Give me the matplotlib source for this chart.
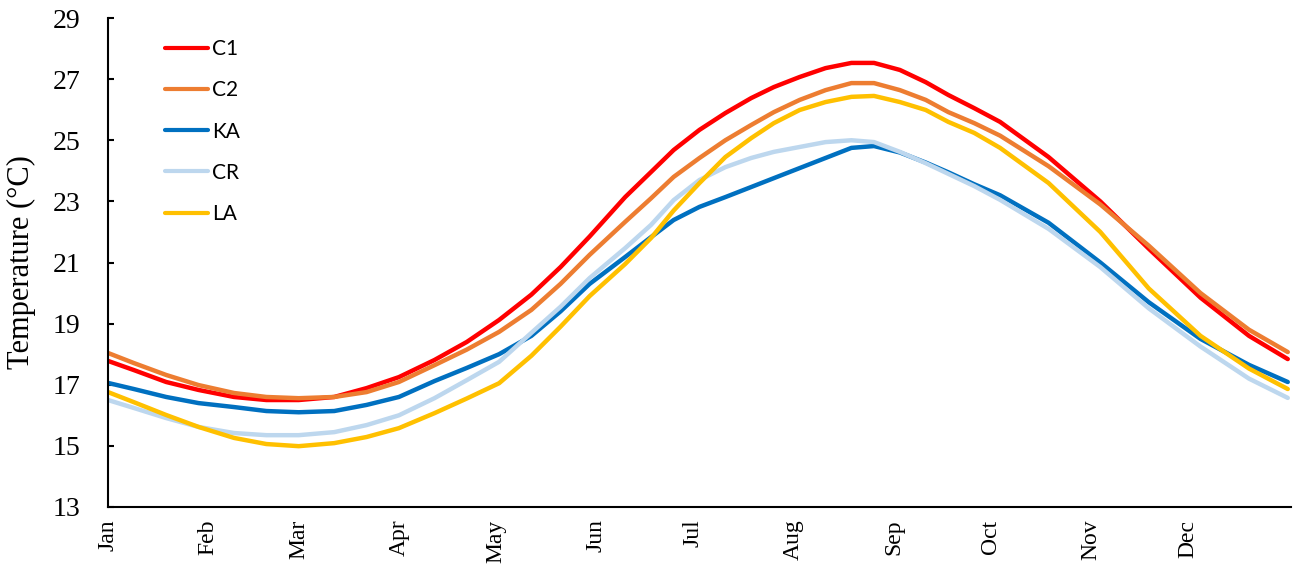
import matplotlib
matplotlib.use("Agg")
import matplotlib.pyplot as plt

# ================> Data (day of year -> temperature)
days = [0, 8, 18, 28, 39, 49, 59, 70, 80, 90, 101, 111, 121, 131, 140, 149, 160, 168, 175, 183,
        191, 199, 206, 214, 222, 230, 237, 245, 253, 260, 268, 276, 291, 307, 322, 338, 353, 365]

c1 = [17.78, 17.48, 17.09, 16.83, 16.60, 16.50, 16.50, 16.60, 16.89, 17.25, 17.81, 18.40, 19.12, 19.95, 20.85, 21.85, 23.14, 23.96, 24.68, 25.34,
      25.89, 26.38, 26.74, 27.07, 27.36, 27.53, 27.53, 27.30, 26.90, 26.48, 26.05, 25.60, 24.45, 23.00, 21.45, 19.85, 18.60, 17.84]
c2 = [18.04, 17.71, 17.32, 16.99, 16.73, 16.60, 16.56, 16.60, 16.76, 17.09, 17.64, 18.15, 18.73, 19.45, 20.30, 21.25, 22.33, 23.10, 23.80, 24.42,
      25.00, 25.50, 25.92, 26.32, 26.64, 26.87, 26.87, 26.64, 26.32, 25.92, 25.56, 25.15, 24.15, 22.90, 21.55, 20.00, 18.80, 18.07]
ka = [17.06, 16.86, 16.60, 16.40, 16.27, 16.14, 16.10, 16.14, 16.34, 16.60, 17.12, 17.55, 18.00, 18.60, 19.40, 20.30, 21.18, 21.83, 22.39, 22.82,
      23.14, 23.47, 23.76, 24.09, 24.42, 24.75, 24.81, 24.60, 24.27, 23.95, 23.56, 23.20, 22.30, 21.00, 19.70, 18.50, 17.65, 17.09]
cr = [16.50, 16.24, 15.91, 15.62, 15.42, 15.35, 15.35, 15.45, 15.68, 16.00, 16.56, 17.15, 17.75, 18.70, 19.55, 20.49, 21.47, 22.23, 23.04, 23.70,
      24.12, 24.42, 24.62, 24.78, 24.94, 25.00, 24.94, 24.62, 24.25, 23.90, 23.50, 23.05, 22.10, 20.85, 19.50, 18.25, 17.20, 16.57]
la = [16.76, 16.43, 16.01, 15.62, 15.26, 15.06, 14.99, 15.09, 15.29, 15.58, 16.07, 16.55, 17.05, 17.95, 18.90, 19.90, 20.95, 21.80, 22.70, 23.60,
      24.45, 25.07, 25.56, 25.99, 26.25, 26.42, 26.45, 26.25, 25.99, 25.60, 25.24, 24.75, 23.60, 22.00, 20.15, 18.60, 17.53, 16.86]

series_names = ["C1", "C2", "KA", "CR", "LA"]
series_colors = ["#FF0000", "#ED7D31", "#0070C0", "#BDD7EE", "#FFC000"]

month_starts = [0, 31, 59, 90, 120, 151, 181, 212, 243, 273, 304, 334]
month_labels = ["Jan", "Feb", "Mar", "Apr", "May", "Jun", "Jul", "Aug", "Sep", "Oct", "Nov", "Dec"]
y_ticks = [13, 15, 17, 19, 21, 23, 25, 27, 29]

plt.rcParams['font.family'] = ['Liberation Serif', 'DejaVu Serif']

fig = plt.figure(figsize=(13.04, 5.68), dpi=100)
ax = fig.add_axes([108 / 1304, 1 - 507 / 568, 1183 / 1304, 489 / 568])

for values, name, color in zip([c1, c2, ka, cr, la], series_names, series_colors):
    ax.plot(days, values, color=color, linewidth=3.2, label=name,
            solid_capstyle='round', solid_joinstyle='round')

ax.set_xlim(0, 366)
ax.set_ylim(13, 29)
ax.set_yticks(y_ticks)
ax.set_xticks(month_starts)
ax.set_xticklabels(month_labels, rotation=90)

ax.tick_params(axis='x', length=0, pad=9, labelsize=17)
ax.tick_params(axis='y', direction='in', length=4, width=1.5, pad=20, labelsize=20)

for side in ['top', 'right']:
    ax.spines[side].set_visible(False)
for side in ['left', 'bottom']:
    ax.spines[side].set_linewidth(1.5)
    ax.spines[side].set_color('black')

ax.set_ylabel("Temperature (°C)", fontsize=22, labelpad=12)

leg = ax.legend(loc='upper left', bbox_to_anchor=(165 / 1304, 1 - 39 / 568),
                bbox_transform=fig.transFigure, frameon=False,
                borderpad=0, borderaxespad=0, handlelength=2.07, handletextpad=0.2,
                labelspacing=1.02, prop={'family': 'Lato', 'size': 15})
for line in leg.get_lines():
    line.set_linewidth(3.0)

fig.savefig("out.png", dpi=100)
